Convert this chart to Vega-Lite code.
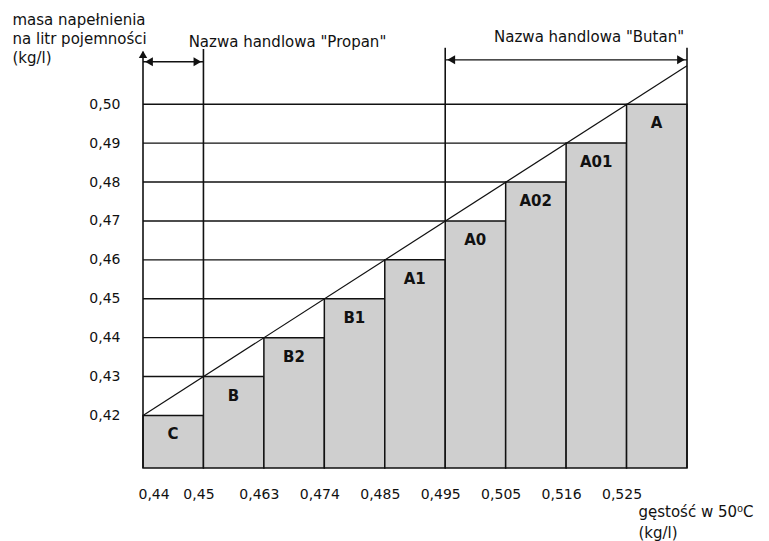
{
  "$schema": "https://vega.github.io/schema/vega-lite/v6.json",
  "width": 544,
  "height": 428,
  "autosize": {"type": "none"},
  "padding": {"left": 143, "top": 40, "right": 82, "bottom": 73},
  "background": "white",
  "config": {
    "view": {"stroke": null},
    "font": "DejaVu Sans",
    "axis": {"labelFont": "DejaVu Sans", "titleFont": "DejaVu Sans", "labelColor": "#111", "titleColor": "#111"}
  },
  "datasets": {
    "bars": [
      {"klasa": "C", "i0": 0, "i1": 1, "masa": 0.42},
      {"klasa": "B", "i0": 1, "i1": 2, "masa": 0.43},
      {"klasa": "B2", "i0": 2, "i1": 3, "masa": 0.44},
      {"klasa": "B1", "i0": 3, "i1": 4, "masa": 0.45},
      {"klasa": "A1", "i0": 4, "i1": 5, "masa": 0.46},
      {"klasa": "A0", "i0": 5, "i1": 6, "masa": 0.47},
      {"klasa": "A02", "i0": 6, "i1": 7, "masa": 0.48},
      {"klasa": "A01", "i0": 7, "i1": 8, "masa": 0.49},
      {"klasa": "A", "i0": 8, "i1": 9, "masa": 0.50}
    ],
    "diag": [
      {"i": 0, "m": 0.42},
      {"i": 9, "m": 0.5099}
    ],
    "verticals": [
      {"i": 0, "lo": 0.4065, "hi": 0.5135},
      {"i": 1, "lo": 0.43, "hi": 0.5142},
      {"i": 5, "lo": 0.47, "hi": 0.5145},
      {"i": 9, "lo": 0.4065, "hi": 0.5145}
    ],
    "ranges": [
      {"a": 0, "b": 1, "y": 0.5109, "label": "Nazwa handlowa \"Propan\"", "tx": 2.39, "ty": 0.5160},
      {"a": 5, "b": 9, "y": 0.5114, "label": "Nazwa handlowa \"Butan\"", "tx": 7.38, "ty": 0.5173}
    ],
    "yarrow": [
      {"i": 0, "m": 0.5128}
    ]
  },
  "layer": [
    {
      "data": {"name": "bars"},
      "mark": {"type": "bar", "fill": "#cfcfcf", "stroke": "#111", "strokeWidth": 1.5},
      "encoding": {
        "x": {
          "field": "i0", "type": "quantitative",
          "scale": {"domain": [0, 9], "nice": false, "zero": false},
          "axis": {
            "values": [0, 1, 2, 3, 4, 5, 6, 7, 8],
            "labelExpr": "['0,44','0,45','0,463','0,474','0,485','0,495','0,505','0,516','0,525'][datum.value]",
            "domain": false, "ticks": false, "grid": false,
            "labelFontSize": 14, "labelPadding": 19, "labelOffset": -5,
            "title": ["gęstość w 50⁰C", "(kg/l)"],
            "titleFontSize": 15, "titleFontWeight": "normal",
            "titleAlign": "left", "titleAnchor": "start", "titleBaseline": "top",
            "titleX": 495, "titleY": 36, "titleLineHeight": 21
          }
        },
        "x2": {"field": "i1"},
        "y": {
          "field": "masa", "type": "quantitative",
          "scale": {"domain": [0.4065, 0.5165], "nice": false, "zero": false},
          "axis": {
            "values": [0.42, 0.43, 0.44, 0.45, 0.46, 0.47, 0.48, 0.49, 0.50],
            "labelExpr": "replace(format(datum.value, '.2f'), '.', ',')",
            "domain": false, "ticks": false, "grid": false,
            "labelFontSize": 14, "labelPadding": 23,
            "title": ["masa napełnienia", "na litr pojemności", "(kg/l)"],
            "titleFontSize": 15, "titleFontWeight": "normal", "titleAngle": 0,
            "titleAlign": "left", "titleBaseline": "top",
            "titleX": -131, "titleY": -28, "titleLineHeight": 19
          }
        },
        "y2": {"datum": 0.4065}
      }
    },
    {
      "data": {"name": "bars"},
      "transform": [{"filter": "datum.i0 > 0"}],
      "mark": {"type": "rule", "color": "#111", "strokeWidth": 1.4},
      "encoding": {
        "x": {"field": "i0", "type": "quantitative"},
        "x2": {"datum": 0},
        "y": {"field": "masa", "type": "quantitative"}
      }
    },
    {
      "data": {"name": "diag"},
      "mark": {"type": "line", "color": "#111", "strokeWidth": 1.2},
      "encoding": {
        "x": {"field": "i", "type": "quantitative"},
        "y": {"field": "m", "type": "quantitative"}
      }
    },
    {
      "data": {"name": "verticals"},
      "mark": {"type": "rule", "color": "#111", "strokeWidth": 1.6},
      "encoding": {
        "x": {"field": "i", "type": "quantitative"},
        "y": {"field": "lo", "type": "quantitative"},
        "y2": {"field": "hi"}
      }
    },
    {
      "data": {"name": "ranges"},
      "mark": {"type": "rule", "color": "#111", "strokeWidth": 1.4},
      "encoding": {
        "x": {"field": "a", "type": "quantitative"},
        "x2": {"field": "b"},
        "y": {"field": "y", "type": "quantitative"}
      }
    },
    {
      "data": {"name": "ranges"},
      "mark": {"type": "point", "shape": "triangle-left", "filled": true, "color": "#111", "size": 80, "xOffset": 6, "opacity": 1},
      "encoding": {
        "x": {"field": "a", "type": "quantitative"},
        "y": {"field": "y", "type": "quantitative"}
      }
    },
    {
      "data": {"name": "ranges"},
      "mark": {"type": "point", "shape": "triangle-right", "filled": true, "color": "#111", "size": 80, "xOffset": -6, "opacity": 1},
      "encoding": {
        "x": {"field": "b", "type": "quantitative"},
        "y": {"field": "y", "type": "quantitative"}
      }
    },
    {
      "data": {"name": "yarrow"},
      "mark": {"type": "point", "shape": "triangle-up", "filled": true, "color": "#111", "size": 70, "opacity": 1},
      "encoding": {
        "x": {"field": "i", "type": "quantitative"},
        "y": {"field": "m", "type": "quantitative"}
      }
    },
    {
      "data": {"name": "ranges"},
      "mark": {"type": "text", "fontSize": 15, "color": "#111", "align": "center", "baseline": "middle"},
      "encoding": {
        "x": {"field": "tx", "type": "quantitative"},
        "y": {"field": "ty", "type": "quantitative"},
        "text": {"field": "label"}
      }
    },
    {
      "data": {"name": "bars"},
      "mark": {"type": "text", "fontSize": 15, "fontWeight": "bold", "color": "#111", "align": "center", "baseline": "middle", "dx": 30, "dy": 19},
      "encoding": {
        "x": {"field": "i0", "type": "quantitative"},
        "y": {"field": "masa", "type": "quantitative"},
        "text": {"field": "klasa"}
      }
    }
  ]
}
